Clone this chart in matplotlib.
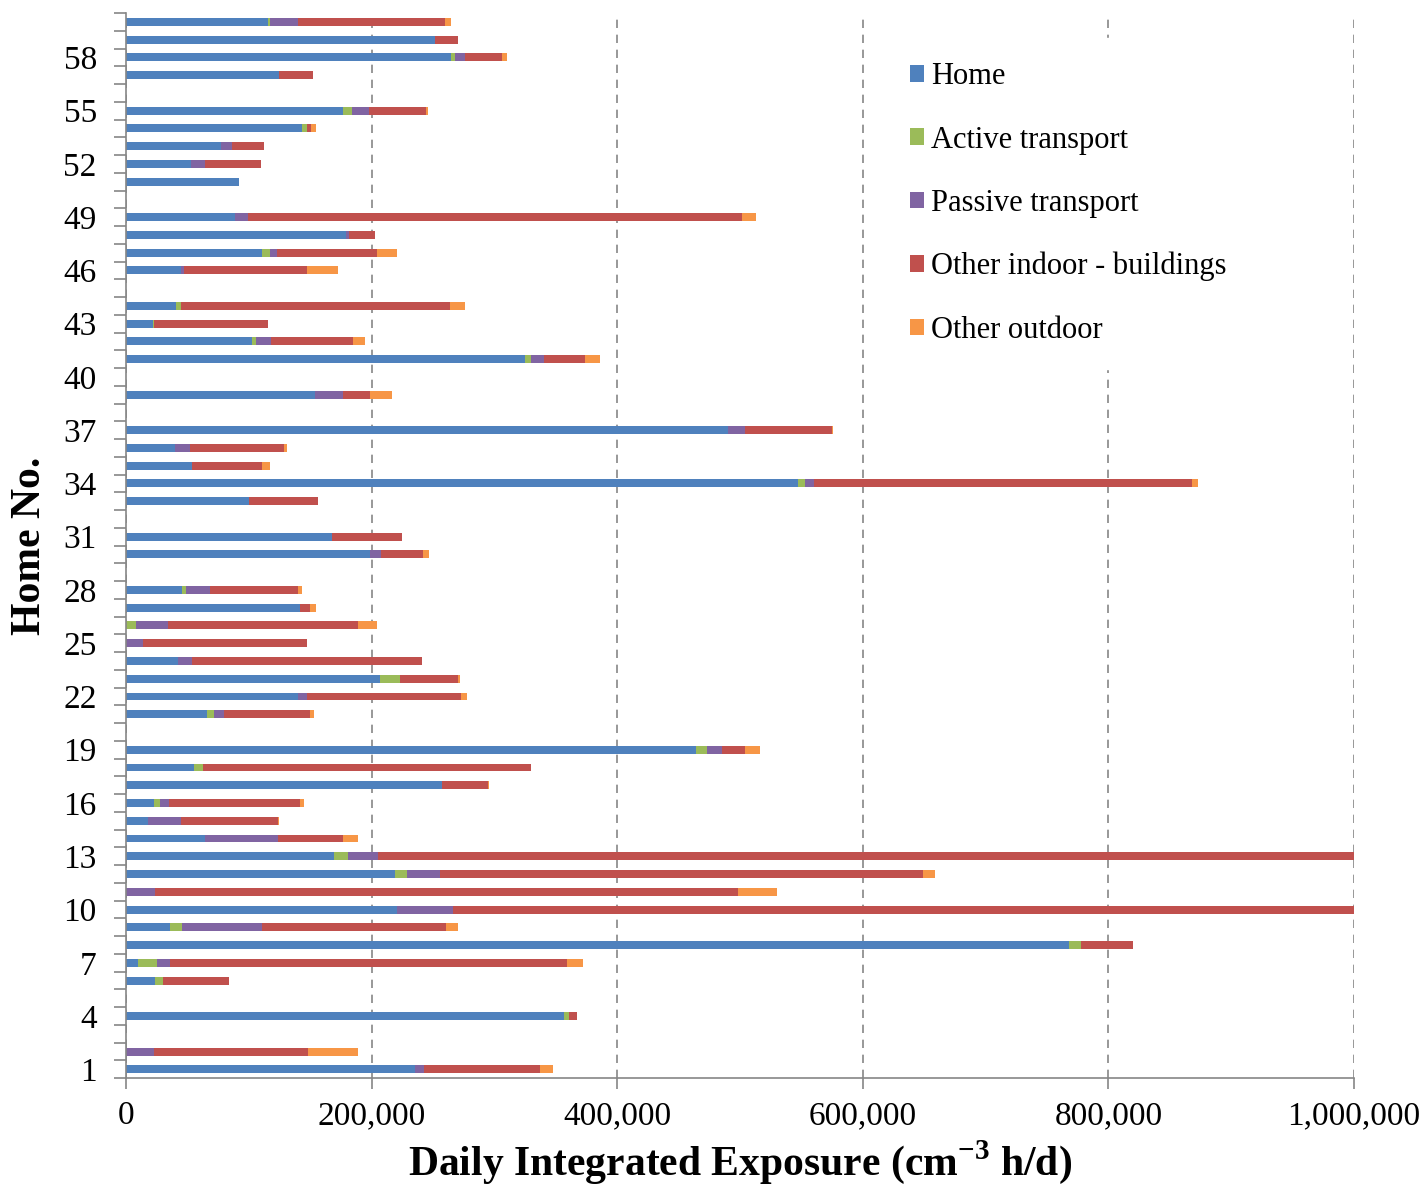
import numpy as np
import matplotlib

matplotlib.use('Agg')
import matplotlib.pyplot as plt
from matplotlib.ticker import FuncFormatter, MultipleLocator

plt.rcParams['font.family'] = ['Liberation Serif', 'DejaVu Serif']
plt.rcParams['mathtext.fontset'] = 'custom'
plt.rcParams['mathtext.rm'] = 'Liberation Serif'
plt.rcParams['mathtext.bf'] = 'Liberation Serif:bold'

# exposure by micro-environment, thousands of cm-3 h/d, homes 1..60
homes = np.arange(1, 61)
home = [235, 0, 0, 357, 0, 24, 10, 768, 36, 221,
        0, 219, 169, 64, 18, 23, 257, 55, 464, 0,
        66, 140, 207, 42, 0, 0, 142, 46, 0, 199,
        168, 0, 100, 547, 54, 40, 490, 0, 154, 0,
        325, 103, 22, 41, 0, 45, 111, 179, 89, 0,
        92, 53, 77, 143, 177, 0, 125, 265, 252, 116]
active = [0, 0, 0, 4, 0, 6, 15, 10, 10, 0,
          0, 10, 12, 0, 0, 5, 0, 8, 9, 0,
          6, 0, 16, 0, 0, 8, 0, 3, 0, 0,
          0, 0, 0, 6, 0, 0, 0, 0, 0, 0,
          5, 3, 1, 4, 0, 0, 6, 0, 0, 0,
          0, 0, 0, 4, 7, 0, 0, 3, 0, 1]
passive = [8, 23, 0, 0, 0, 0, 11, 0, 65, 45,
           24, 27, 24, 60, 27, 7, 0, 0, 12, 0,
           8, 7, 0, 12, 14, 26, 0, 19, 0, 9,
           0, 0, 0, 7, 0, 12, 14, 0, 23, 0,
           10, 12, 0, 0, 0, 2, 6, 3, 10, 0,
           0, 11, 9, 0, 14, 0, 0, 8, 0, 23]
indoor = [94, 125, 0, 6, 0, 54, 323, 42, 150, 900,
          474, 393, 900, 53, 79, 107, 38, 267, 19, 0,
          70, 126, 47, 187, 133, 155, 8, 72, 0, 34,
          57, 0, 56, 308, 57, 77, 71, 0, 22, 0,
          34, 67, 93, 219, 0, 100, 81, 21, 403, 0,
          0, 46, 26, 4, 46, 0, 27, 30, 18, 120]
outdoor = [11, 41, 0, 0, 0, 0, 13, 0, 9, 0,
           32, 10, 0, 12, 1, 3, 1, 0, 12, 0,
           3, 5, 2, 0, 0, 15, 5, 3, 0, 5,
           0, 0, 0, 5, 6, 2, 1, 0, 18, 0,
           12, 10, 0, 12, 0, 26, 17, 0, 11, 0,
           0, 0, 0, 4, 2, 0, 0, 4, 0, 5]

series = [('Home', home, '#4F81BD'),
          ('Active transport', active, '#9BBB59'),
          ('Passive transport', passive, '#8064A2'),
          ('Other indoor - buildings', indoor, '#C0504D'),
          ('Other outdoor', outdoor, '#F79646')]

fig = plt.figure(figsize=(14.27, 11.90), dpi=100)
ax = fig.add_axes([0.0883, 0.094, 0.8605, 0.895])

left = np.zeros(len(homes))
for name, vals, col in series:
    v = np.array(vals, dtype=float) * 1000
    ax.barh(homes, v, left=left, height=0.45, color=col, label=name, linewidth=0)
    left += v

ax.set_xlim(0, 1000000)
ax.set_ylim(0.5, 60.5)
ax.xaxis.set_major_locator(MultipleLocator(200000))
ax.xaxis.set_major_formatter(FuncFormatter(lambda x, p: '{:,}'.format(int(x))))
ax.set_yticks(np.arange(1, 61, 3))
ax.set_yticks(np.arange(0.5, 61, 1), minor=True)
ax.tick_params(axis='y', which='major', length=0, labelsize=24, pad=21)
ax.tick_params(axis='y', which='minor', length=9, color='#868686', width=1.2)
ax.tick_params(axis='x', length=8, color='#868686', width=1.2, labelsize=24, pad=8)

ax.grid(axis='x', linestyle=(0, (5, 4)), color='#868686', linewidth=1.2)
ax.set_axisbelow(True)
for s in ['top', 'right']:
    ax.spines[s].set_visible(False)
for s in ['left', 'bottom']:
    ax.spines[s].set_color('#868686')
    ax.spines[s].set_linewidth(1.2)

ax.set_ylabel('Home No.', fontsize=30, fontweight='bold', labelpad=10)
ax.set_xlabel(r'Daily Integrated Exposure (cm$^{\mathbf{-3}}$ h/d)',
              fontsize=30, fontweight='bold', labelpad=5)

leg = fig.legend(loc='upper left', bbox_to_anchor=(0.6097, 0.981), fontsize=22,
                 handlelength=0.45, handleheight=0.45, handletextpad=0.25,
                 labelspacing=1.12, frameon=True, fancybox=False,
                 borderpad=0.8)
leg.get_frame().set_facecolor('white')
leg.get_frame().set_edgecolor('white')
leg.get_frame().set_alpha(1)

fig.savefig('out.png', dpi=100)
plt.close(fig)
